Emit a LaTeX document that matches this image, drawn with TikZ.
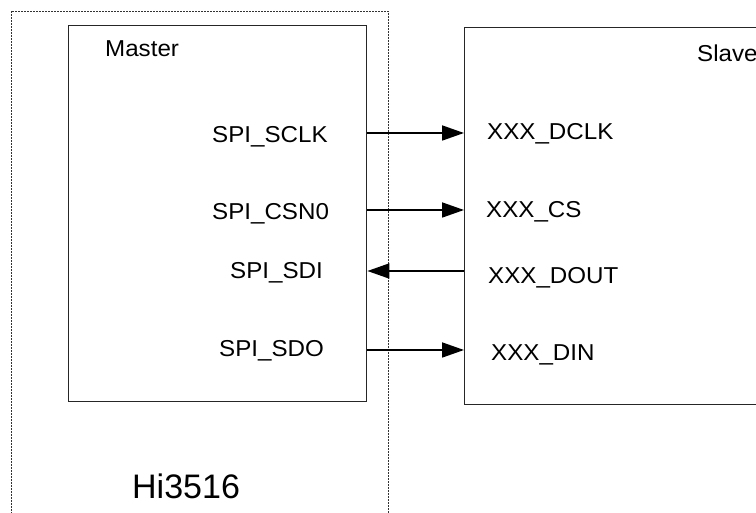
\documentclass[tikz,border=0pt]{standalone}
\usepackage{fontspec}
\setmainfont{Liberation Sans}
\newfontfamily\labfont{Liberation Sans}[FakeStretch=1.05]
\usetikzlibrary{arrows.meta}
\begin{document}
\begin{tikzpicture}[x=1pt,y=-1pt,
  boxstyle/.style={draw=black!85, line width=1.4pt, inner sep=0pt},
  lbl/.style={anchor=base west, inner sep=0pt, font=\labfont\fontsize{23}{25}\selectfont},
  sig/.style={line width=1.8pt, -{Triangle[length=22pt,width=15pt]}},
  chip/.style={draw=black!80, line width=0.9pt, dash pattern=on 2pt off 1pt}]
\clip (0,0) rectangle (756,513);
\fill[white] (0,0) rectangle (756,513);
% outer dotted chip boundary
\draw[chip] (11,520) -- (11,11) -- (388,11) -- (388,520);
% boxes
\node[boxstyle, minimum width=298pt, minimum height=376pt, anchor=north west] (master) at (68,25) {};
\node[boxstyle, minimum width=320pt, minimum height=377pt, anchor=north west] (slave) at (464,27) {};
% labels
\node[lbl] (mlab) at (105,57) {Master};
\node[lbl] (slab) at (697,62) {Slave};
\node[lbl] (m1) at (212,143) {SPI\_SCLK};
\node[lbl] (m2) at (212,220) {SPI\_CSN0};
\node[lbl] (m3) at (230,279) {SPI\_SDI};
\node[lbl] (m4) at (219,357) {SPI\_SDO};
\node[lbl] (s1) at (487,140) {XXX\_DCLK};
\node[lbl] (s2) at (486,218) {XXX\_CS};
\node[lbl] (s3) at (488,284) {XXX\_DOUT};
\node[lbl] (s4) at (491,361) {XXX\_DIN};
\node[anchor=base west, inner sep=0pt, font=\fontsize{34}{36}\selectfont] (chipname) at (132,498) {Hi3516};
% signal rows
\coordinate (r1) at (0,133);
\coordinate (r2) at (0,210);
\coordinate (r3) at (0,271);
\coordinate (r4) at (0,350);
\draw[sig] (master.east |- r1) -- (slave.west |- r1);
\draw[sig] (master.east |- r2) -- (slave.west |- r2);
\draw[sig] (slave.west |- r3) -- (master.east |- r3);
\draw[sig] (master.east |- r4) -- (slave.west |- r4);
\end{tikzpicture}
\end{document}
